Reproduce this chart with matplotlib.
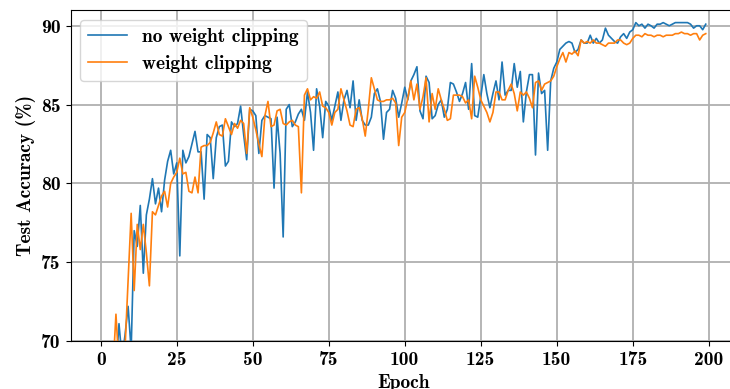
import numpy as np
import matplotlib
matplotlib.use("Agg")
import matplotlib.pyplot as plt

# test accuracy per epoch (%), values below 70 fall outside the view
acc_no_clip = [
    45.0, 55.3, 60.1, 63.8, 66.5, 68.2, 71.1, 68.9, 70.4, 72.2,
    69.4, 77.0, 76.0, 78.6, 74.3, 78.0, 79.0, 80.3, 78.7, 79.7,
    78.2, 80.2, 81.4, 82.1, 80.6, 81.3, 75.4, 82.1, 81.3, 81.7,
    82.5, 83.3, 82.0, 82.0, 79.0, 83.1, 82.9, 80.3, 82.9, 83.6,
    83.7, 81.1, 81.4, 83.9, 83.6, 83.8, 84.9, 83.1, 81.5, 84.7,
    84.6, 84.3, 81.9, 84.0, 84.3, 84.2, 84.1, 79.7, 84.2, 81.9,
    76.6, 84.7, 85.0, 83.6, 83.9, 84.4, 84.7, 84.0, 85.8, 84.5,
    82.1, 86.0, 84.9, 82.9, 85.2, 84.9, 84.0, 84.9, 85.8, 84.0,
    85.3, 85.9, 84.8, 86.5, 84.0, 85.3, 84.0, 83.7, 83.7, 84.2,
    85.7, 86.0, 85.2, 82.8, 84.5, 84.7, 85.9, 85.4, 84.2, 85.1,
    86.1, 85.3, 86.5, 86.9, 87.4, 84.6, 84.1, 86.8, 86.4, 84.1,
    84.3, 85.0, 85.3, 84.2, 84.7, 86.4, 86.3, 85.8, 85.2, 85.7,
    86.4, 84.7, 87.6, 84.3, 84.2, 85.5, 86.9, 85.7, 84.8, 85.7,
    86.5, 85.3, 87.7, 85.6, 85.9, 85.9, 87.6, 86.1, 87.1, 83.9,
    85.8, 86.9, 86.9, 81.8, 87.0, 85.7, 85.9, 82.1, 86.5, 87.3,
    87.7, 88.5, 88.7, 88.9, 89.0, 88.9, 88.3, 88.5, 89.1, 88.9,
    88.9, 89.4, 88.9, 89.2, 88.9, 89.1, 89.85, 89.4, 89.2, 89.0,
    88.9, 89.3, 89.5, 89.2, 89.6, 89.75, 90.2, 90.0, 90.1, 89.85,
    90.1, 90.0, 89.85, 90.1, 90.1, 90.2, 90.1, 90.0, 90.1, 90.2,
    90.2, 90.2, 90.2, 90.2, 90.1, 89.85, 90.0, 90.0, 89.75, 90.1,
]

acc_clip = [
    48.0, 57.2, 62.5, 65.9, 68.1, 71.7, 68.4, 67.9, 69.6, 73.8,
    78.1, 73.2, 77.4, 75.8, 77.4, 75.6, 73.5, 78.2, 78.0, 78.6,
    79.2, 79.5, 78.5, 80.0, 80.4, 80.7, 81.6, 80.6, 80.7, 79.5,
    79.4, 80.4, 79.4, 82.3, 82.4, 82.4, 82.6, 83.2, 83.9, 83.1,
    83.0, 84.1, 83.6, 83.1, 83.8, 83.5, 84.0, 83.8, 81.9, 84.8,
    84.2, 83.4, 82.5, 81.7, 84.3, 85.2, 83.6, 83.7, 84.6, 84.7,
    83.8, 83.7, 83.9, 84.0, 83.7, 83.6, 79.4, 85.6, 86.0, 85.3,
    85.5, 85.4, 85.8, 84.9, 84.8, 84.5, 83.7, 84.5, 84.7, 86.0,
    85.3, 84.6, 83.7, 83.6, 84.7, 84.8, 84.1, 83.0, 84.7, 86.7,
    86.0, 85.3, 85.2, 85.2, 85.3, 85.3, 85.4, 85.1, 82.4, 84.2,
    84.5, 85.4, 86.5, 85.3, 86.3, 84.7, 85.5, 86.7, 83.9, 85.7,
    84.7, 86.0, 85.3, 84.7, 84.0, 84.1, 85.6, 85.6, 85.6, 85.5,
    85.1, 85.3, 84.1, 86.8, 86.1, 85.3, 84.9, 84.5, 83.9, 84.5,
    85.8, 85.8, 85.3, 85.3, 85.9, 86.3, 85.7, 84.6, 85.8, 85.6,
    85.8, 85.4, 84.8, 86.4, 86.5, 85.9, 86.3, 86.4, 86.5, 86.8,
    87.4, 87.9, 88.3, 87.7, 88.3, 88.2, 88.4, 88.1, 89.1, 88.9,
    89.0, 88.9, 89.1, 88.9, 88.9, 88.8, 88.7, 88.9, 88.9, 88.9,
    89.1, 89.1, 88.9, 88.8, 88.9, 89.2, 89.4, 89.4, 89.3, 89.5,
    89.4, 89.4, 89.3, 89.4, 89.4, 89.3, 89.4, 89.4, 89.4, 89.5,
    89.5, 89.6, 89.5, 89.5, 89.4, 89.5, 89.5, 89.1, 89.4, 89.5,
]

epochs = np.arange(len(acc_no_clip))

plt.rcParams["font.family"] = ["cmb10", "DejaVu Serif"]
plt.rcParams["axes.unicode_minus"] = False
plt.rcParams["font.size"] = 14

fig = plt.figure(figsize=(7.3, 3.89), dpi=100)
ax = fig.add_axes([70.5 / 730, 1 - 341 / 389, (736 - 70.5) / 730, (341 - 10) / 389])

ax.plot(epochs, acc_no_clip, color="#1f77b4", lw=1.2, label="no weight clipping")
ax.plot(epochs, acc_clip, color="#ff7f0e", lw=1.2, label="weight clipping")

ax.set_xlim(-9.95, 208.95)
ax.set_ylim(70, 91)
ax.set_xticks(np.arange(0, 201, 25))
ax.set_yticks([70, 75, 80, 85, 90])
ax.grid(True, color="#b0b0b0", lw=1.3)
ax.set_axisbelow(True)

ax.set_xlabel("Epoch")
ax.set_ylabel("Test Accuracy (%)")
ax.legend(loc="upper left", fontsize=14, framealpha=0.8)

fig.savefig("out.png", dpi=100)
